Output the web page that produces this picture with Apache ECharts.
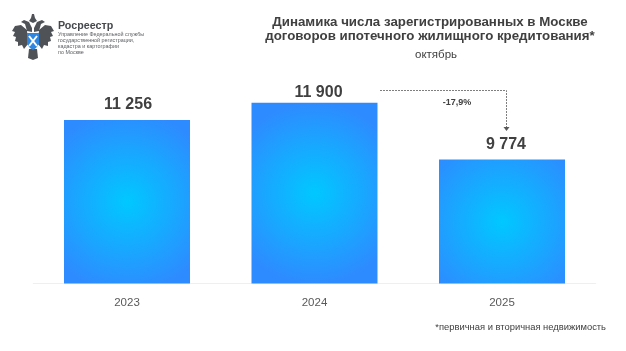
<!DOCTYPE html>
<html>
<head>
<meta charset="utf-8">
<script src="https://cdn.jsdelivr.net/npm/echarts@6/dist/echarts.min.js"></script>
<style>
html,body{margin:0;padding:0;background:#fff}
#chart{width:626px;height:351px}
</style>
</head>
<body>
<div id="chart"></div>
<script>
var years = ['2023', '2024', '2025'];
var contracts = [11256, 11900, 9774];
var titleLines = ['Динамика числа зарегистрированных в Москве', 'договоров ипотечного жилищного кредитования*'];
var subTitle = 'октябрь';
var changeLabel = '-17,9%';
var footNote = '*первичная и вторичная недвижимость';
var orgName = 'Росреестр';
var orgLines = ['Управление Федеральной службы', 'государственной регистрации,', 'кадастра и картографии', 'по Москве'];

var font = '"Liberation Sans", Arial, sans-serif';
var chart = echarts.init(document.getElementById('chart'));

// 11 256 -> "11 256"
function spaced(v){
  return String(v).replace(/\B(?=(\d{3})+$)/g, ' ');
}

function txt(x, y, text, size, color, weight, align){
  return {
    type: 'text', x: x, y: y,
    style: {
      text: text, fill: color, font: (weight || 'normal') + ' ' + size + 'px ' + font,
      align: align || 'center', verticalAlign: 'middle'
    }
  };
}

function poly(points, fill){
  return {type: 'polygon', shape: {points: points}, style: {fill: fill}};
}

// герб в шапке, рисуем упрощённо
var dark = '#4f5358';
var emblem = [
  // левое крыло
  poly([[27,30],[21,25],[15,26],[12,31],[15,32],[13,36],[16,37],[15,41],[18,42],[18,46],[22,45],[24,49],[28,44]], dark),
  // правое крыло
  poly([[39,30],[45,25],[51,26],[54,31],[51,32],[53,36],[50,37],[51,41],[48,42],[48,46],[44,45],[42,49],[38,44]], dark),
  // головы
  poly([[27,31],[25,24],[21,22],[24,20],[29,22],[32,28],[32,32]], dark),
  poly([[39,31],[41,24],[45,22],[42,20],[37,22],[34,28],[34,32]], dark),
  // корона
  poly([[29,21],[31,18],[32,14],[34,14],[35,18],[37,21],[33,23]], dark),
  // хвост и лапы
  poly([[29,49],[37,49],[38,58],[33,60],[28,58]], dark),
  // щит
  poly([[27,33],[39,33],[39,44],[36,48],[33,50],[30,48],[27,44]], '#2f86e0'),
  {type: 'line', shape: {x1: 29, y1: 36, x2: 37, y2: 46}, style: {stroke: '#fff', lineWidth: 2}},
  {type: 'line', shape: {x1: 37, y1: 36, x2: 29, y2: 46}, style: {stroke: '#fff', lineWidth: 2}}
];

var graphicList = emblem.concat([
  txt(58, 26, orgName, 10.7, '#45484c', 'bold', 'left'),
  txt(58, 35, orgLines[0], 5.4, '#5a5d61', 'normal', 'left'),
  txt(58, 41, orgLines[1], 5.4, '#5a5d61', 'normal', 'left'),
  txt(58, 47, orgLines[2], 5.4, '#5a5d61', 'normal', 'left'),
  txt(58, 53, orgLines[3], 5.4, '#5a5d61', 'normal', 'left'),
  txt(430, 22, titleLines[0], 13.3, '#404040', 'bold'),
  txt(430, 36, titleLines[1], 13.3, '#404040', 'bold'),
  txt(436, 55, subTitle, 11.5, '#404040'),
  txt(457, 103, changeLabel, 9, '#404040', 'bold'),
  txt(606, 327, footNote, 9.4, '#404040', 'normal', 'right'),
  // стрелка 2024 -> 2025
  {
    type: 'polyline',
    shape: {points: [[380,90.5],[506.5,90.5],[506.5,128]]},
    style: {stroke: '#7f7f7f', lineWidth: 1, lineDash: [2,1], fill: null}
  },
  poly([[503.5,127],[509.5,127],[506.5,131]], '#595959')
]);

// подписи в оригинале сдвинуты относительно столбцов
var labelShift = [[1,0],[4,5],[4,0]];

var option = {
  animation: false,
  grid: {left: 33.25, width: 562.5, top: 20, height: 263.5},
  xAxis: {
    type: 'category',
    data: years,
    axisLine: {lineStyle: {color: '#efefef', width: 1}},
    axisTick: {show: false},
    axisLabel: {color: '#595959', fontFamily: font, fontSize: 11.5, margin: 13}
  },
  yAxis: {
    type: 'value',
    min: 5125, //столбцы в оригинале начинаются не с нуля
    max: 15000,
    show: false,
    splitLine: {show: false}
  },
  series: [{
    type: 'bar',
    barWidth: 126,
    data: contracts.map(function(v, i){
      return {value: v, label: {offset: labelShift[i]}};
    }),
    itemStyle: {
      color: {
        type: 'radial', x: 0.5, y: 0.5, r: 0.72,
        colorStops: [
          {offset: 0, color: '#00c8ff'},
          {offset: 1, color: '#2e8bff'}
        ]
      }
    },
    label: {
      show: true,
      position: 'top',
      distance: 7,
      color: '#404040',
      fontFamily: font,
      fontWeight: 'bold',
      fontSize: 16,
      formatter: function(p){ return spaced(p.value); }
    }
  }],
  graphic: {elements: graphicList}
};
chart.setOption(option);
</script>
</body>
</html>
